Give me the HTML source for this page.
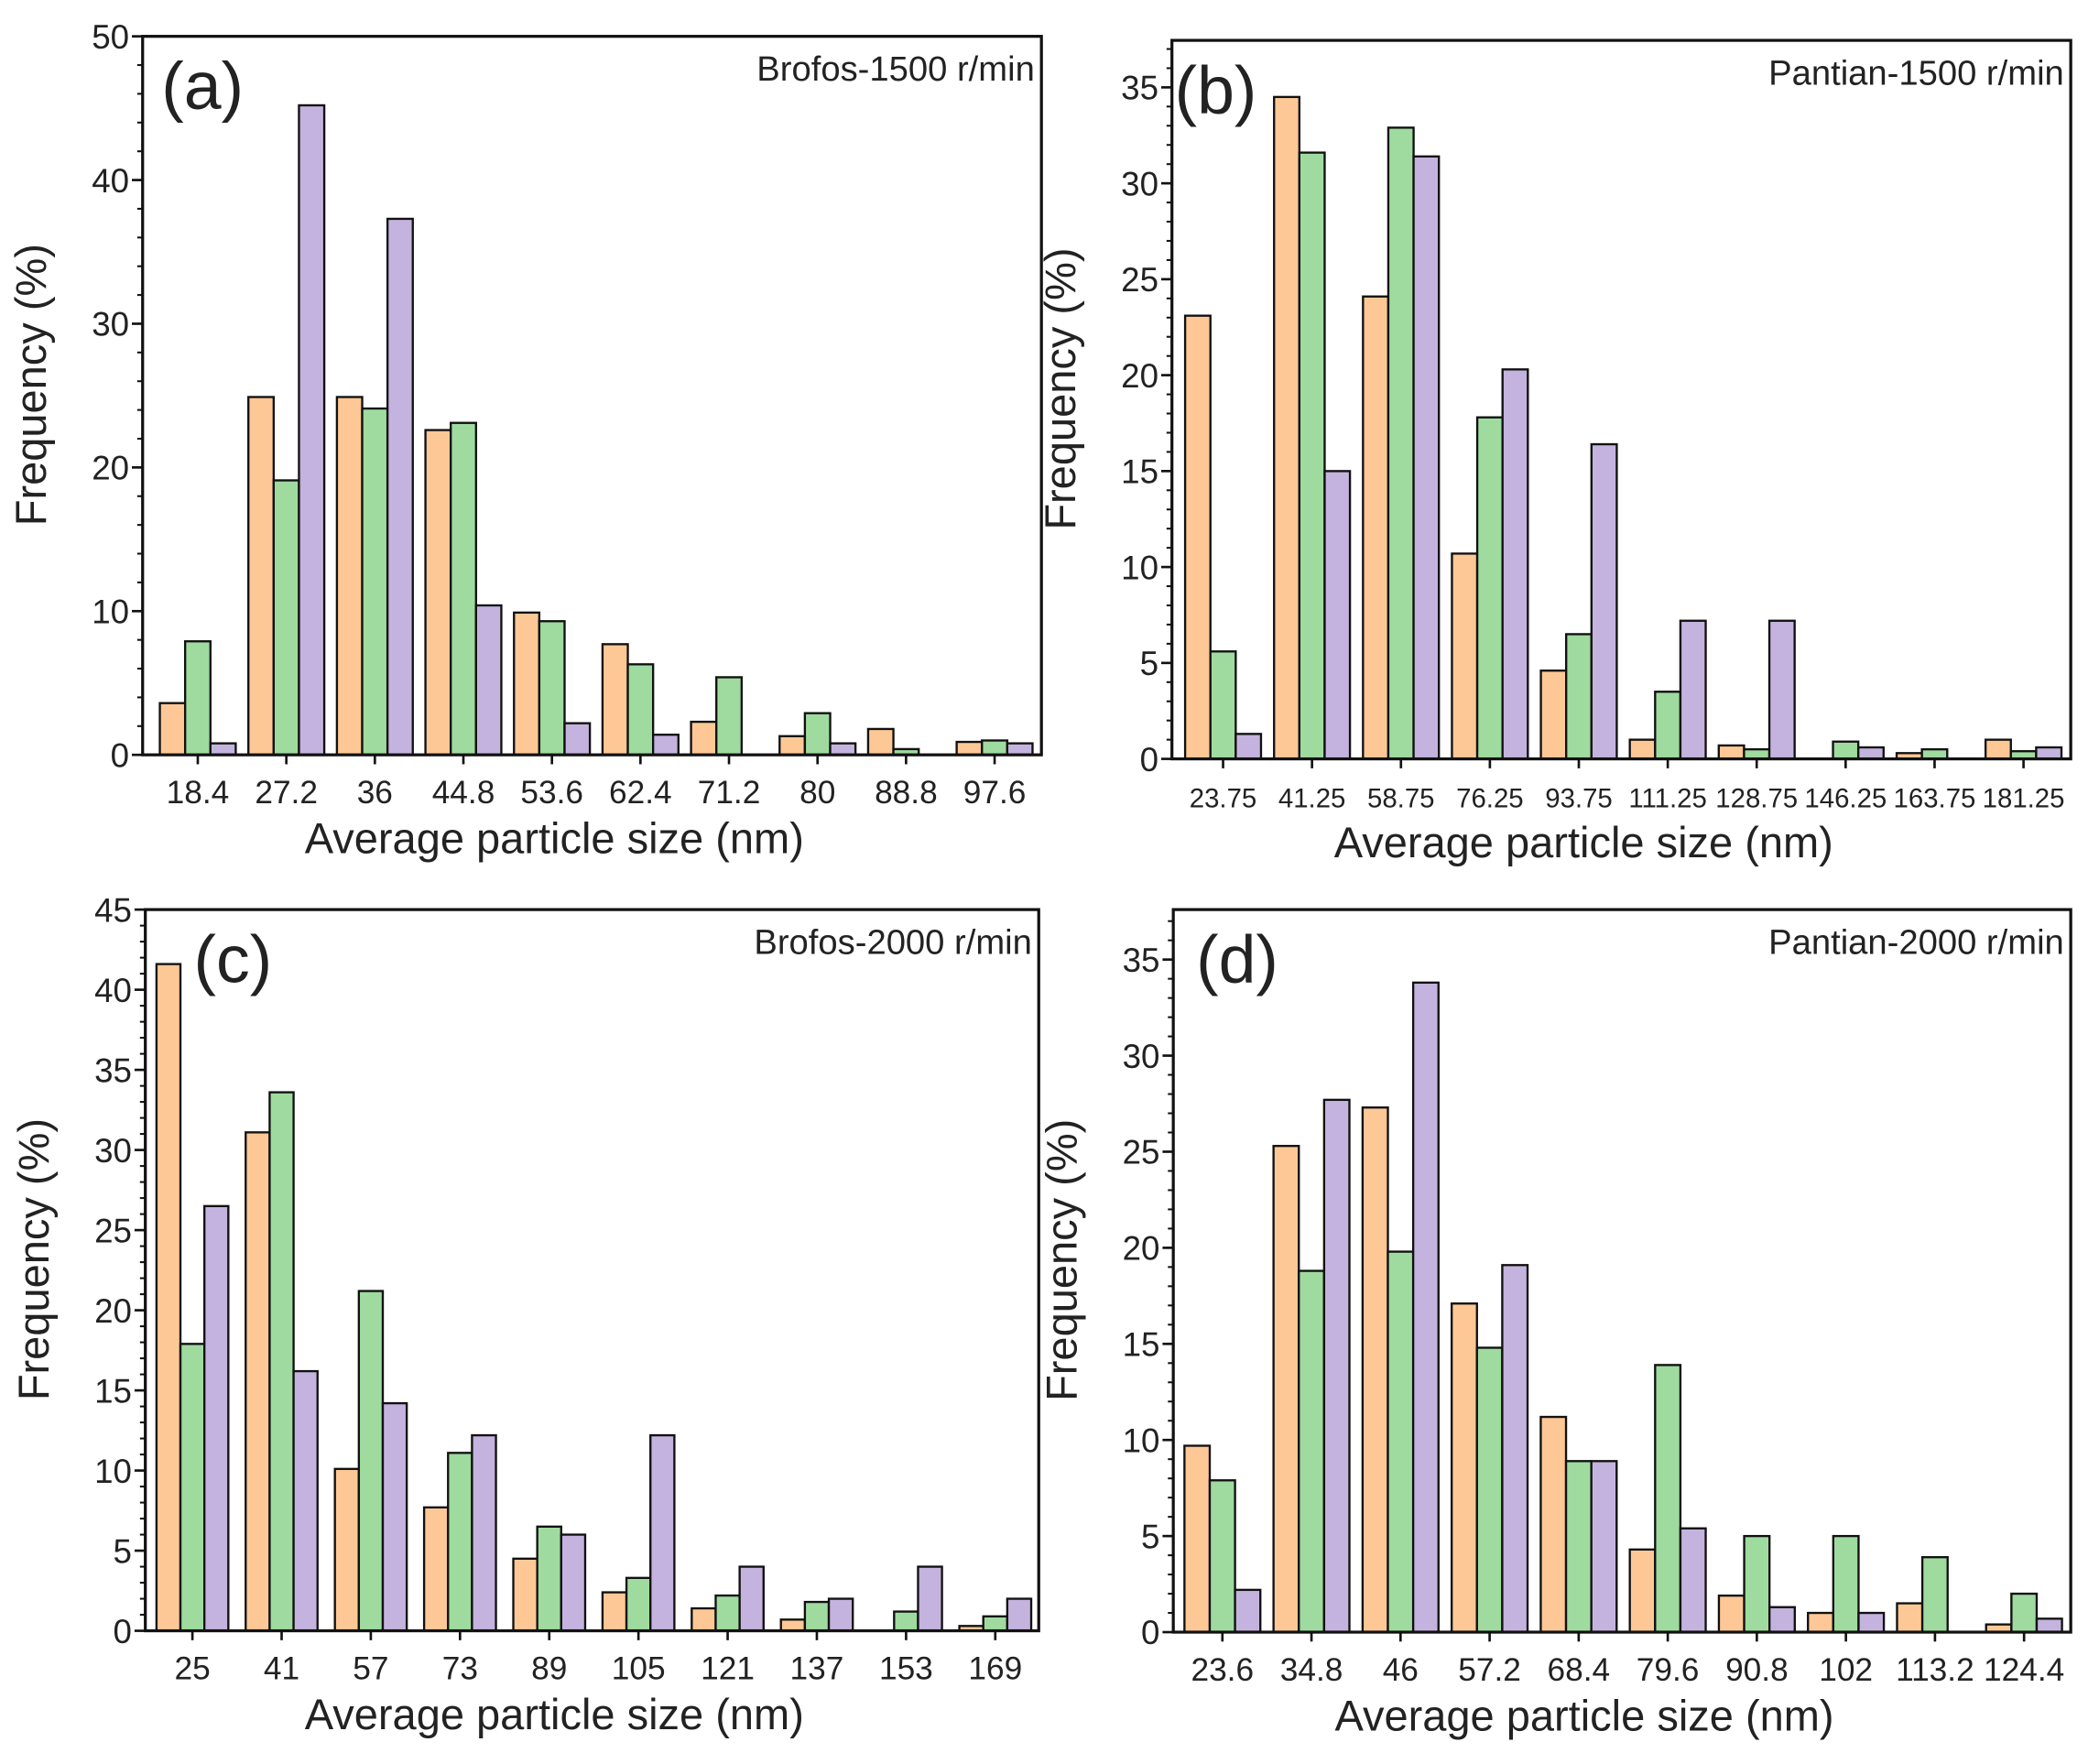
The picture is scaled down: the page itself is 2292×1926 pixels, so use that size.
<!DOCTYPE html>
<html><head><meta charset="utf-8"><style>
html,body{margin:0;padding:0;background:#fff;}
svg{display:block;}
text{font-family:"Liberation Sans",Arial,sans-serif;fill:#222;}
</style></head><body>
<svg id="fig" width="2292" height="1926" viewBox="0 0 1560 1311" preserveAspectRatio="none" xmlns="http://www.w3.org/2000/svg"></svg>
<script>
// Panel (a) data
const catsA = ["18.4","27.2","36","44.8","53.6","62.4","71.2","80","88.8","97.6"];
const orangeA = [3.6,24.9,24.9,22.6,9.9,7.7,2.3,1.3,1.8,0.9];
const greenA  = [7.9,19.1,24.1,23.1,9.3,6.3,5.4,2.9,0.4,1.0];
const purpleA = [0.8,45.2,37.3,10.4,2.2,1.4,0,0.8,0,0.8];
const yTicksA = [0,10,20,30,40,50];
// Panel (b) data
const catsB = ["23.75","41.25","58.75","76.25","93.75","111.25","128.75","146.25","163.75","181.25"];
const orangeB = [23.1,34.5,24.1,10.7,4.6,1.0,0.7,0,0.3,1.0];
const greenB  = [5.6,31.6,32.9,17.8,6.5,3.5,0.5,0.9,0.5,0.4];
const purpleB = [1.3,15.0,31.4,20.3,16.4,7.2,7.2,0.6,0,0.6];
const yTicksB = [0,5,10,15,20,25,30,35];
// Panel (c) data
const catsC = ["25","41","57","73","89","105","121","137","153","169"];
const orangeC = [41.6,31.1,10.1,7.7,4.5,2.4,1.4,0.7,0,0.3];
const greenC  = [17.9,33.6,21.2,11.1,6.5,3.3,2.2,1.8,1.2,0.9];
const purpleC = [26.5,16.2,14.2,12.2,6.0,12.2,4.0,2.0,4.0,2.0];
const yTicksC = [0,5,10,15,20,25,30,35,40,45];
// Panel (d) data
const catsD = ["23.6","34.8","46","57.2","68.4","79.6","90.8","102","113.2","124.4"];
const orangeD = [9.7,25.3,27.3,17.1,11.2,4.3,1.9,1.0,1.5,0.4];
const greenD  = [7.9,18.8,19.8,14.8,8.9,13.9,5.0,5.0,3.9,2.0];
const purpleD = [2.2,27.7,33.8,19.1,8.9,5.4,1.3,1.0,0,0.7];
const yTicksD = [0,5,10,15,20,25,30,35];

const NS="http://www.w3.org/2000/svg";
const svg=document.getElementById('fig');
function mk(tag,attrs,parent){const e=document.createElementNS(NS,tag);for(const k in attrs)e.setAttribute(k,attrs[k]);(parent||svg).appendChild(e);return e;}
const COLORS=["#fdc895","#9fdb9f","#c4b3de"];
const SER=["orange","green","purple"];

function panel(id,cfg,cats,series,yTicks,yMax,minorStep){
  const g=mk('g',{});
  
  
  const {L,R,T,B,c0,sp,bw}=cfg;
  const y=v=>B-(v/yMax)*(B-T);
  const xc=i=>c0+i*sp;
  series.forEach((arr,s)=>{
    arr.forEach((v,i)=>{
      if(v<=0)return;
      const x0=xc(i)+(s-1.5)*bw;
      const r=mk('rect',{x:x0,y:y(v),width:bw,height:B-y(v),fill:COLORS[s],stroke:"#111","stroke-width":1.6},g);
      
      
    });
  });
  const fr=mk('rect',{x:L,y:T,width:R-L,height:B-T,fill:"none",stroke:"#111","stroke-width":2.2},g);
  
  
  for(let v=0;v<=yMax+1e-6;v+=minorStep){
    mk('line',{x1:L-4,x2:L,y1:y(v),y2:y(v),stroke:"#111","stroke-width":1.4},g);
  }
  yTicks.forEach(v=>{
    mk('line',{x1:L-8,x2:L,y1:y(v),y2:y(v),stroke:"#111","stroke-width":1.8},g);
    const t=mk('text',{x:L-10,y:y(v)+9,"text-anchor":"end","font-size":25},g);
    t.textContent=v;
    
    
  });
  cats.forEach((c,i)=>{
    mk('line',{x1:xc(i),x2:xc(i),y1:B,y2:B+7,stroke:"#111","stroke-width":1.8},g);
    const t=mk('text',{x:xc(i),y:B+36,"text-anchor":"middle","font-size":cfg.xfs},g);
    t.textContent=c;
    
    
  });
  const xt=mk('text',{x:(L+R)/2-28,y:B+73,"text-anchor":"middle","font-size":32},g);
  xt.textContent="Average particle size (nm)";
  
  
  const yx=L-72, yy=(T+B)/2-8;
  const yt=mk('text',{x:yx,y:yy,"text-anchor":"middle","font-size":32,transform:`rotate(-90 ${yx} ${yy})`},g);
  yt.textContent="Frequency (%)";
  
  
  const pl=mk('text',{x:L+cfg.lx,y:T+54,"font-size":50},g);
  pl.textContent="("+id+")";
  
  
  const an=mk('text',{x:R-5,y:T+33,"text-anchor":"end","font-size":26},g);
  an.textContent=cfg.note;
  
  
}

panel('a',{L:106,R:774,T:27,B:561,c0:147,sp:65.8,bw:18.8,xfs:24,lx:14,note:"Brofos-1500 r/min"},catsA,[orangeA,greenA,purpleA],yTicksA,50,2);
panel('b',{L:871,R:1539,T:30,B:564,c0:909,sp:66.1,bw:18.8,xfs:20,lx:2,note:"Pantian-1500 r/min"},catsB,[orangeB,greenB,purpleB],yTicksB,37.45,1);
panel('c',{L:108,R:772,T:676,B:1212,c0:143,sp:66.3,bw:17.8,xfs:24,lx:36,note:"Brofos-2000 r/min"},catsC,[orangeC,greenC,purpleC],yTicksC,45,1);
panel('d',{L:872,R:1539,T:676,B:1213,c0:908.5,sp:66.2,bw:18.8,xfs:24,lx:17,note:"Pantian-2000 r/min"},catsD,[orangeD,greenD,purpleD],yTicksD,37.6,1);
</script>
</body></html>
